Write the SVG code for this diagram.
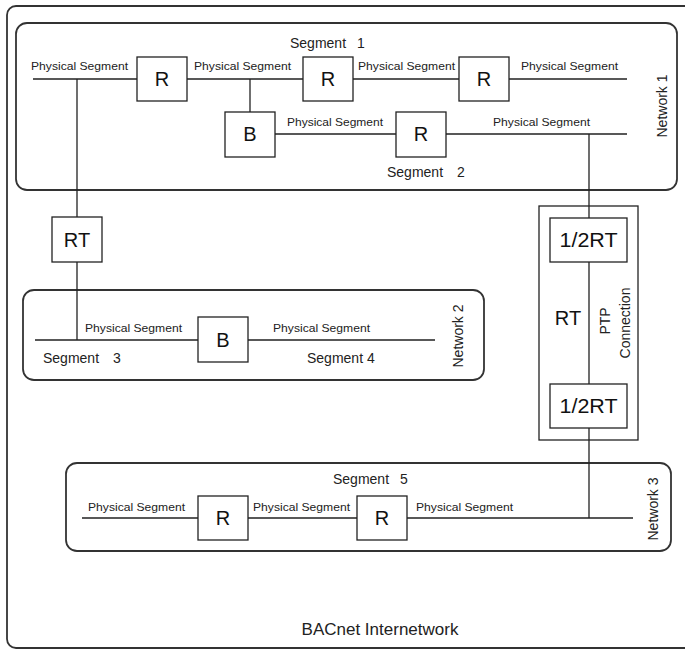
<svg xmlns="http://www.w3.org/2000/svg" width="685" height="650" viewBox="0 0 685 650">
<style>
  .frame{fill:none;stroke:#333;stroke-width:1.8}
  .box{fill:#fff;stroke:#222;stroke-width:1.3}
  .ln{fill:none;stroke:#222;stroke-width:1.3}
  .ps{font-family:"Liberation Sans",Arial,sans-serif;font-size:11px;fill:#222}
  .seg{font-family:"Liberation Sans",Arial,sans-serif;font-size:14px;fill:#222}
  .lbl{font-family:"Liberation Sans",Arial,sans-serif;font-size:20px;fill:#111;text-anchor:middle}
  .title{font-family:"Liberation Sans",Arial,sans-serif;font-size:17px;fill:#222;text-anchor:middle}
</style>
<rect width="685" height="650" fill="#fff"/>
<g id="internetwork">
  <rect class="frame" x="7" y="6" width="700" height="642" rx="9"/>
  <text class="title" x="380" y="635">BACnet Internetwork</text>
</g>
<g id="network1">
  <rect class="frame" x="16" y="23" width="661" height="167" rx="11"/>
  <text class="seg" transform="translate(662,106) rotate(-90)" text-anchor="middle" dy="5">Network 1</text>
  <text class="seg" x="290" y="48" word-spacing="7">Segment 1</text>
  <text class="seg" x="387" y="177" word-spacing="10">Segment 2</text>
  <text class="ps" x="31" y="70" textLength="97" lengthAdjust="spacingAndGlyphs">Physical Segment</text>
  <text class="ps" x="194" y="70" textLength="97" lengthAdjust="spacingAndGlyphs">Physical Segment</text>
  <text class="ps" x="358" y="70" textLength="97" lengthAdjust="spacingAndGlyphs">Physical Segment</text>
  <text class="ps" x="521" y="70" textLength="97" lengthAdjust="spacingAndGlyphs">Physical Segment</text>
  <text class="ps" x="287" y="126" textLength="96" lengthAdjust="spacingAndGlyphs">Physical Segment</text>
  <text class="ps" x="493" y="126" textLength="97" lengthAdjust="spacingAndGlyphs">Physical Segment</text>
</g>
<g id="network2">
  <rect class="frame" x="23" y="290" width="461" height="90" rx="11"/>
  <text class="seg" transform="translate(458,336) rotate(-90)" text-anchor="middle" dy="5">Network 2</text>
  <text class="seg" x="43" y="363" word-spacing="10">Segment 3</text>
  <text class="seg" x="307" y="363">Segment 4</text>
  <text class="ps" x="85" y="332" textLength="97" lengthAdjust="spacingAndGlyphs">Physical Segment</text>
  <text class="ps" x="273" y="332" textLength="97" lengthAdjust="spacingAndGlyphs">Physical Segment</text>
</g>
<g id="network3">
  <rect class="frame" x="66" y="463" width="605" height="88" rx="11"/>
  <text class="seg" transform="translate(653,509) rotate(-90)" text-anchor="middle" dy="5">Network 3</text>
  <text class="seg" x="333" y="484" word-spacing="7">Segment 5</text>
  <text class="ps" x="88" y="511" textLength="97" lengthAdjust="spacingAndGlyphs">Physical Segment</text>
  <text class="ps" x="253" y="511" textLength="97" lengthAdjust="spacingAndGlyphs">Physical Segment</text>
  <text class="ps" x="416" y="511" textLength="97" lengthAdjust="spacingAndGlyphs">Physical Segment</text>
</g>
<g id="connectors">
  <path class="ln" d="M33 79H137 M187 79H303 M353 79H459 M509 79H627"/>
  <path class="ln" d="M77 79V217 M77 262V340"/>
  <path class="ln" d="M250 79V112"/>
  <path class="ln" d="M275 134H396 M446 134H627"/>
  <path class="ln" d="M589 134V218 M589 262V384 M589 428V518"/>
  <path class="ln" d="M35 340H198 M248 340H435"/>
  <path class="ln" d="M82 518H198 M248 518H357 M407 518H633"/>
</g>
<g id="ptp">
  <rect class="box" x="539" y="206" width="99" height="234" fill="none" style="fill:none"/>
  <text class="lbl" x="568" y="325">RT</text>
  <text class="seg" transform="translate(605,321) rotate(-90)" text-anchor="middle" dy="5">PTP</text>
  <text class="seg" transform="translate(625,323) rotate(-90)" text-anchor="middle" dy="5">Connection</text>
</g>
<g id="r1"><rect class="box" x="137" y="57" width="50" height="44"/><text class="lbl" x="162" y="86">R</text></g>
<g id="r2"><rect class="box" x="303" y="57" width="50" height="44"/><text class="lbl" x="328" y="86">R</text></g>
<g id="r3"><rect class="box" x="459" y="57" width="50" height="44"/><text class="lbl" x="484" y="86">R</text></g>
<g id="b1"><rect class="box" x="225" y="112" width="50" height="45"/><text class="lbl" x="250" y="141">B</text></g>
<g id="r4"><rect class="box" x="396" y="112" width="50" height="45"/><text class="lbl" x="421" y="141">R</text></g>
<g id="rt"><rect class="box" x="52" y="217" width="50" height="45"/><text class="lbl" x="77" y="247">RT</text></g>
<g id="halfrt1"><rect class="box" x="550" y="218" width="77" height="44"/><text class="lbl" x="588.5" y="247" textLength="58" lengthAdjust="spacingAndGlyphs">1/2RT</text></g>
<g id="halfrt2"><rect class="box" x="550" y="384" width="77" height="44"/><text class="lbl" x="588.5" y="413" textLength="58" lengthAdjust="spacingAndGlyphs">1/2RT</text></g>
<g id="b2"><rect class="box" x="198" y="317" width="50" height="45"/><text class="lbl" x="223" y="347">B</text></g>
<g id="r5"><rect class="box" x="198" y="496" width="50" height="44"/><text class="lbl" x="223" y="525">R</text></g>
<g id="r6"><rect class="box" x="357" y="496" width="50" height="44"/><text class="lbl" x="382" y="525">R</text></g>
</svg>
